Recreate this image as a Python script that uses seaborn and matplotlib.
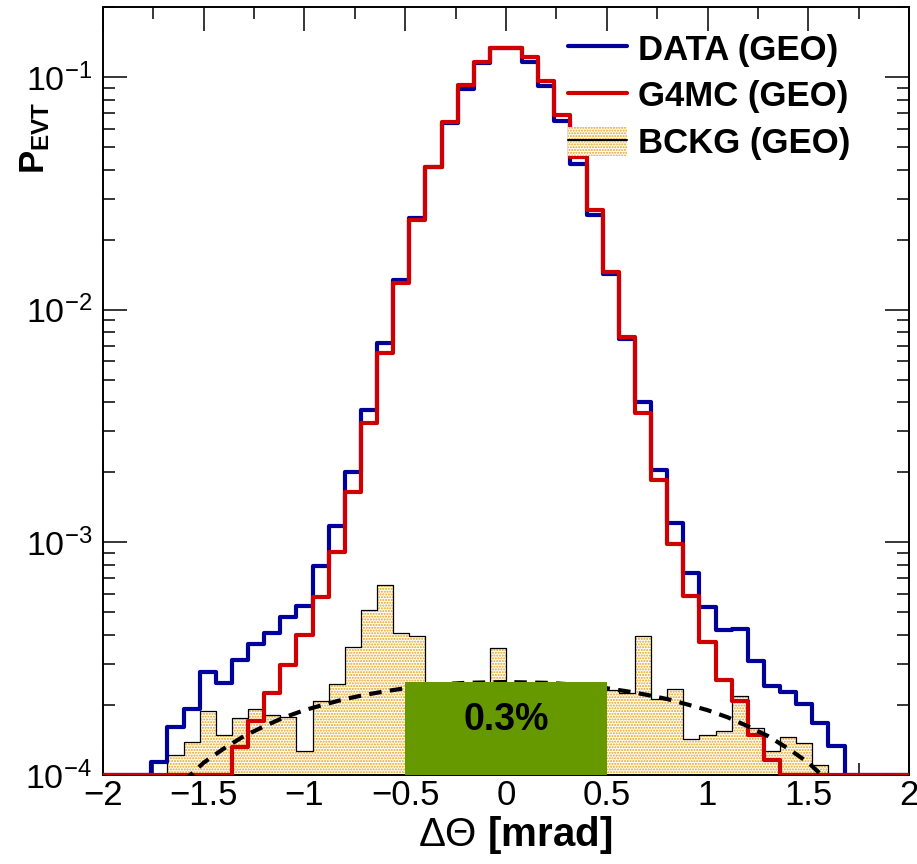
import numpy as np
import pandas as pd
import matplotlib
matplotlib.use("Agg")
import matplotlib.pyplot as plt
import seaborn as sns
from matplotlib.lines import Line2D
from matplotlib.patches import Patch
from matplotlib.ticker import MultipleLocator, LogLocator, NullFormatter, FuncFormatter

# 50 bins of 0.08 mrad between -2 and 2
bin_edges = np.linspace(-2.0, 2.0, 51)

data_geo = [0, 0, 0, 1.14e-4, 1.61e-4, 1.92e-4, 2.78e-4, 2.48e-4, 3.13e-4, 3.65e-4,
            4.07e-4, 4.77e-4, 5.30e-4, 7.92e-4, 1.17e-3, 2.00e-3, 3.71e-3, 7.17e-3, 1.34e-2, 2.47e-2,
            4.12e-2, 6.32e-2, 8.88e-2, 0.1152, 0.1328, 0.1328, 0.1157, 0.0918, 0.0649, 0.0423,
            0.0255, 1.423e-2, 7.46e-3, 4.03e-3, 2.05e-3, 1.21e-3, 7.36e-4, 5.26e-4, 4.18e-4, 4.23e-4,
            3.10e-4, 2.41e-4, 2.28e-4, 2.02e-4, 1.68e-4, 1.33e-4, 0, 0, 0, 0]

g4mc_geo = [0, 0, 0, 0, 0, 0, 0, 0, 1.32e-4, 1.70e-4,
            2.25e-4, 2.97e-4, 4.00e-4, 5.85e-4, 9.12e-4, 1.65e-3, 3.25e-3, 6.50e-3, 1.30e-2, 2.43e-2,
            4.12e-2, 6.43e-2, 9.24e-2, 0.1157, 0.1328, 0.1328, 0.1215, 0.0964, 0.0687, 0.0455,
            0.0268, 1.457e-2, 7.61e-3, 3.59e-3, 1.85e-3, 9.84e-4, 5.89e-4, 3.74e-4, 2.56e-4, 2.07e-4,
            1.49e-4, 1.16e-4, 0, 0, 0, 0, 0, 0, 0, 0]

bckg_geo = [0, 0, 0, 0, 1.22e-4, 1.39e-4, 1.89e-4, 1.49e-4, 1.75e-4, 1.92e-4,
            1.81e-4, 1.77e-4, 1.27e-4, 2.08e-4, 2.46e-4, 3.56e-4, 5.13e-4, 6.56e-4, 4.07e-4, 3.97e-4,
            2.2e-4, 2.0e-4, 2.1e-4, 2.3e-4, 3.51e-4, 2.2e-4, 2.1e-4, 2.3e-4, 2.0e-4, 2.2e-4,
            2.1e-4, 2.32e-4, 2.26e-4, 3.97e-4, 2.12e-4, 2.34e-4, 1.43e-4, 1.49e-4, 1.55e-4, 2.19e-4,
            1.60e-4, 1.27e-4, 1.46e-4, 1.37e-4, 1.10e-4, 0, 0, 0, 0, 0]

# dashed background fit
fit_x = [-1.6, -1.5, -1.4, -1.3, -1.2, -1.1, -1.0, -0.9, -0.8, -0.7, -0.6, -0.5, -0.4, -0.3, -0.2, -0.1,
         0.0, 0.1, 0.2, 0.3, 0.4, 0.5, 0.6, 0.7, 0.8, 0.9, 1.0, 1.1, 1.2, 1.3, 1.4, 1.5, 1.6]
fit_y = [0.94e-4, 1.13e-4, 1.30e-4, 1.47e-4, 1.62e-4, 1.77e-4, 1.90e-4, 2.01e-4, 2.12e-4, 2.21e-4,
         2.29e-4, 2.36e-4, 2.41e-4, 2.46e-4, 2.49e-4, 2.50e-4, 2.51e-4, 2.50e-4, 2.49e-4, 2.46e-4,
         2.41e-4, 2.36e-4, 2.29e-4, 2.21e-4, 2.12e-4, 2.01e-4, 1.90e-4, 1.77e-4, 1.62e-4, 1.47e-4,
         1.30e-4, 1.13e-4, 0.94e-4]

# signal window box
window_x = [-0.5, 0.5]
window_top = 2.5e-4
window_label = "0.3%"

labels = ["DATA (GEO)", "G4MC (GEO)", "BCKG (GEO)"]

ymin, ymax = 1e-4, 0.2
blue = "#00009c"
red = "#d00000"
orange = "#e8a010"
green = "#669900"

sns.set_style("ticks")
plt.rcParams["font.family"] = ["Liberation Sans", "DejaVu Sans"]
plt.rcParams["mathtext.fontset"] = "custom"
plt.rcParams["mathtext.rm"] = "Liberation Sans"
plt.rcParams["mathtext.it"] = "Liberation Sans:italic"
plt.rcParams["mathtext.bf"] = "Liberation Sans:bold"
plt.rcParams["hatch.linewidth"] = 1.0
for key in ["text.color", "axes.labelcolor", "xtick.color", "ytick.color", "axes.edgecolor"]:
    plt.rcParams[key] = "black"

centers = (bin_edges[:-1] + bin_edges[1:]) / 2
df = pd.DataFrame({"dtheta": centers, "DATA": data_geo, "G4MC": g4mc_geo, "BCKG": bckg_geo})
# empty bins are drawn on the lower edge, like ROOT does on a log axis
for col in ["DATA", "G4MC", "BCKG"]:
    df[col + "_plot"] = df[col].clip(lower=ymin)

fig = plt.figure(figsize=(9.17, 8.64), dpi=100)
ax = fig.add_axes([0.1123, 0.1030, 0.879, 0.8889])

hist_kw = dict(data=df, x="dtheta", bins=len(centers), binrange=(bin_edges[0], bin_edges[-1]),
               element="step", fill=False, ax=ax)

# background: dotted fill + thin outline
bk = df["BCKG_plot"].to_numpy()
ax.fill_between(bin_edges, ymin, np.append(bk, bk[-1]), step="post", facecolor="white",
                edgecolor=orange, hatch="......", linewidth=0, zorder=1)
sns.histplot(weights="BCKG_plot", color="black", linewidth=0.9, zorder=2, **hist_kw)
sns.histplot(weights="DATA_plot", color=blue, linewidth=3.0, zorder=3, **hist_kw)
sns.histplot(weights="G4MC_plot", color=red, linewidth=3.0, zorder=4, **hist_kw)

ax.plot(fit_x, fit_y, color="black", lw=3, dashes=(3, 2), zorder=5)

ax.fill_between(window_x, ymin, window_top, color=green, linewidth=0, zorder=6)
ax.text(np.mean(window_x), 1.73e-4, window_label, fontsize=27, fontweight="bold",
        ha="center", va="center", zorder=7)

ax.set_yscale("log")
ax.set_xlim(-2, 2)
ax.set_ylim(ymin, ymax)
ax.set_xlabel("")
ax.set_ylabel("")

ax.xaxis.set_major_locator(MultipleLocator(0.5))
ax.xaxis.set_minor_locator(MultipleLocator(0.25))
ax.xaxis.set_major_formatter(FuncFormatter(lambda v, p: f"{v + 0:g}".replace("-", "\u2212")))
ax.yaxis.set_major_locator(LogLocator(base=10, numticks=10))
ax.yaxis.set_minor_locator(LogLocator(base=10, subs=np.arange(2, 10), numticks=100))
ax.yaxis.set_minor_formatter(NullFormatter())

ax.tick_params(which="both", direction="in", top=True, right=True, width=1.1, color="black")
ax.tick_params(which="major", length=17)
ax.tick_params(which="minor", length=8.6)
ax.tick_params(axis="x", labelsize=25, pad=3)
ax.tick_params(axis="y", labelsize=24.5, pad=8)
for sp in ax.spines.values():
    sp.set_linewidth(1.4)
    sp.set_color("black")

handles = [Line2D([], [], color=blue, lw=3),
           Line2D([], [], color=red, lw=3),
           (Patch(facecolor="white", edgecolor=orange, hatch="......", lw=0),
            Line2D([], [], color="black", lw=1.5))]
ax.legend(handles, labels, loc="upper left", bbox_to_anchor=(568 / 917, 1 - 33 / 864),
          bbox_transform=fig.transFigure, frameon=False, prop={"weight": "bold", "size": 25},
          handlelength=1.7, handleheight=0.92, handletextpad=0.32, labelspacing=0.38,
          borderpad=0, borderaxespad=0)

fig.text(35 / 917, 1 - 138 / 864, r"$\mathbf{P}_{\mathbf{EVT}}$", rotation=90, fontsize=25,
         ha="center", va="center")
fig.text(515 / 917, 1 - 835 / 864, r"$\Delta\Theta$ [mrad]", fontsize=29, fontweight="bold",
         ha="center", va="center")

fig.savefig("out.png", dpi=100)
